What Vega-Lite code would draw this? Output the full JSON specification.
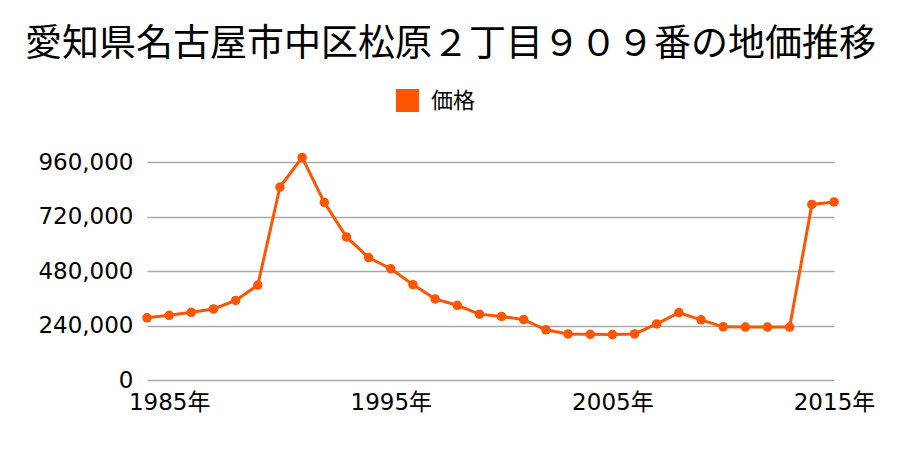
{
  "$schema": "https://vega.github.io/schema/vega-lite/v6.json",
  "autosize": "none",
  "width": 687,
  "height": 218,
  "padding": {"left": 147, "top": 162, "right": 66, "bottom": 70},
  "background": "white",
  "config": {"font": "Noto Sans CJK JP", "view": {"stroke": null}},
  "title": {
    "text": "愛知県名古屋市中区松原２丁目９０９番の地価推移",
    "fontSize": 37,
    "fontWeight": "normal",
    "color": "#000000",
    "anchor": "middle",
    "frame": "group",
    "dx": -40,
    "offset": 25
  },
  "data": {
    "values": [
      {"year": 1984, "price": 274000, "series": "価格"},
      {"year": 1985, "price": 285000, "series": "価格"},
      {"year": 1986, "price": 298000, "series": "価格"},
      {"year": 1987, "price": 313000, "series": "価格"},
      {"year": 1988, "price": 350000, "series": "価格"},
      {"year": 1989, "price": 418000, "series": "価格"},
      {"year": 1990, "price": 850000, "series": "価格"},
      {"year": 1991, "price": 980000, "series": "価格"},
      {"year": 1992, "price": 782000, "series": "価格"},
      {"year": 1993, "price": 630000, "series": "価格"},
      {"year": 1994, "price": 539000, "series": "価格"},
      {"year": 1995, "price": 490000, "series": "価格"},
      {"year": 1996, "price": 420000, "series": "価格"},
      {"year": 1997, "price": 357000, "series": "価格"},
      {"year": 1998, "price": 329000, "series": "価格"},
      {"year": 1999, "price": 290000, "series": "価格"},
      {"year": 2000, "price": 280000, "series": "価格"},
      {"year": 2001, "price": 266000, "series": "価格"},
      {"year": 2002, "price": 221000, "series": "価格"},
      {"year": 2003, "price": 203000, "series": "価格"},
      {"year": 2004, "price": 201000, "series": "価格"},
      {"year": 2005, "price": 200000, "series": "価格"},
      {"year": 2006, "price": 203000, "series": "価格"},
      {"year": 2007, "price": 247000, "series": "価格"},
      {"year": 2008, "price": 297000, "series": "価格"},
      {"year": 2009, "price": 265000, "series": "価格"},
      {"year": 2010, "price": 234000, "series": "価格"},
      {"year": 2011, "price": 233000, "series": "価格"},
      {"year": 2012, "price": 233000, "series": "価格"},
      {"year": 2013, "price": 233000, "series": "価格"},
      {"year": 2014, "price": 773000, "series": "価格"},
      {"year": 2015, "price": 784000, "series": "価格"}
    ]
  },
  "encoding": {
    "x": {
      "field": "year",
      "type": "quantitative",
      "scale": {"domain": [1984, 2015], "nice": false, "zero": false},
      "axis": {
        "title": null,
        "values": [1985, 1995, 2005, 2015],
        "labelExpr": "datum.value + '年'",
        "grid": false,
        "domain": false,
        "ticks": false,
        "labelFont": "DejaVu Sans, Noto Sans CJK JP",
        "labelFontSize": 23,
        "labelColor": "#000000",
        "labelPadding": 11,
        "labelFlush": false
      }
    },
    "y": {
      "field": "price",
      "type": "quantitative",
      "scale": {"domain": [0, 960000], "nice": false},
      "axis": {
        "title": null,
        "values": [0, 240000, 480000, 720000, 960000],
        "format": ",d",
        "grid": true,
        "gridColor": "#aaaaaa",
        "gridWidth": 1.5,
        "domain": false,
        "ticks": false,
        "labelFont": "DejaVu Sans",
        "labelFontSize": 23,
        "labelColor": "#000000",
        "labelPadding": 14
      }
    },
    "color": {
      "field": "series",
      "type": "nominal",
      "scale": {"range": ["#ff5500"]},
      "legend": {
        "title": null,
        "orient": "none",
        "legendX": 249,
        "legendY": -73,
        "symbolType": "square",
        "symbolSize": 529,
        "symbolOpacity": 1,
        "symbolStrokeWidth": 0,
        "symbolFillColor": "#ff5500",
        "labelFontSize": 22,
        "labelColor": "#000000",
        "labelOffset": 12
      }
    }
  },
  "layer": [
    {"mark": {"type": "line", "strokeWidth": 3, "clip": false}},
    {"mark": {"type": "point", "filled": true, "size": 90, "opacity": 1, "clip": false}}
  ]
}
